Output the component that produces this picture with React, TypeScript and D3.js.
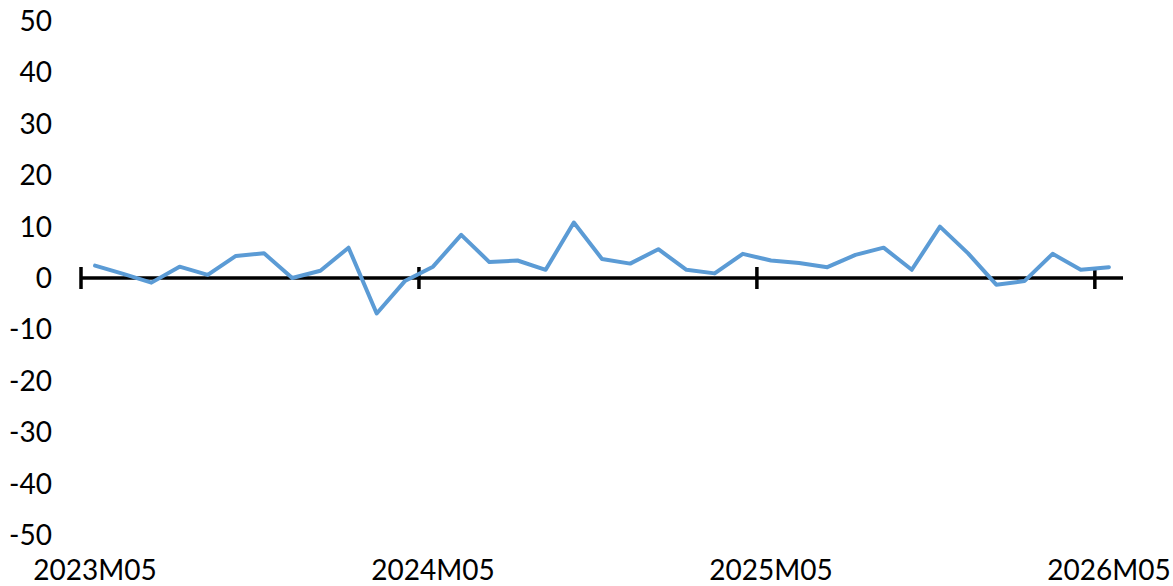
import React from "react";
import * as d3 from "d3";

const months = [
  "2023M05","2023M06","2023M07","2023M08","2023M09","2023M10","2023M11","2023M12",
  "2024M01","2024M02","2024M03","2024M04","2024M05","2024M06","2024M07","2024M08",
  "2024M09","2024M10","2024M11","2024M12","2025M01","2025M02","2025M03","2025M04",
  "2025M05","2025M06","2025M07","2025M08","2025M09","2025M10","2025M11","2025M12",
  "2026M01","2026M02","2026M03","2026M04","2026M05",
];

const values = [
  2.4, 0.8, -0.9, 2.2, 0.6, 4.3, 4.8, 0.0, 1.4, 5.9, -6.9, -0.6, 2.2,
  8.4, 3.1, 3.4, 1.6, 10.8, 3.7, 2.8, 5.6, 1.6, 0.9, 4.7,
  3.4, 2.9, 2.1, 4.5, 5.9, 1.6, 10.0, 4.8, -1.3, -0.6, 4.7, 1.6, 2.1,
];

const yTicks = [50, 40, 30, 20, 10, 0, -10, -20, -30, -40, -50];
const labelMonths = ["2023M05", "2024M05", "2025M05", "2026M05"];

const W = 1173;
const H = 586;
const FONT = "Lato, 'Noto Sans', sans-serif";

export default function App() {
  const x = d3.scaleBand<string>().domain(months).range([81, 1123]).padding(0);
  const y = d3.scaleLinear().domain([-50, 50]).range([535, 21]);
  const y0 = y(0);
  const cx = (m: string) => (x(m) as number) + x.bandwidth() / 2;

  const line = d3
    .line<number>()
    .x((_, i) => cx(months[i]))
    .y((v) => y(v));

  return (
    <svg
      width={W}
      height={H}
      style={{ position: "absolute", left: 0, top: 0, background: "#fff" }}
      fontFamily={FONT}
    >
      {yTicks.map((t) => (
        <text
          key={t}
          x={52}
          y={y(t)}
          dy="0.36em"
          textAnchor="end"
          fontSize={28}
          fill="#000"
        >
          {t}
        </text>
      ))}
      <line x1={81} x2={1123} y1={y0} y2={y0} stroke="#000" strokeWidth={3.5} />
      {labelMonths.map((m) => (
        <line
          key={"t" + m}
          x1={x(m) as number}
          x2={x(m) as number}
          y1={y0 - 11}
          y2={y0 + 11}
          stroke="#000"
          strokeWidth={3.5}
        />
      ))}
      <path
        d={line(values) || ""}
        fill="none"
        stroke="#5B9BD5"
        strokeWidth={4}
        strokeLinejoin="round"
        strokeLinecap="round"
      />
      {labelMonths.map((m) => (
        <text
          key={"l" + m}
          x={cx(m)}
          y={580}
          textAnchor="middle"
          fontSize={28}
          fill="#000"
        >
          {m}
        </text>
      ))}
    </svg>
  );
}
